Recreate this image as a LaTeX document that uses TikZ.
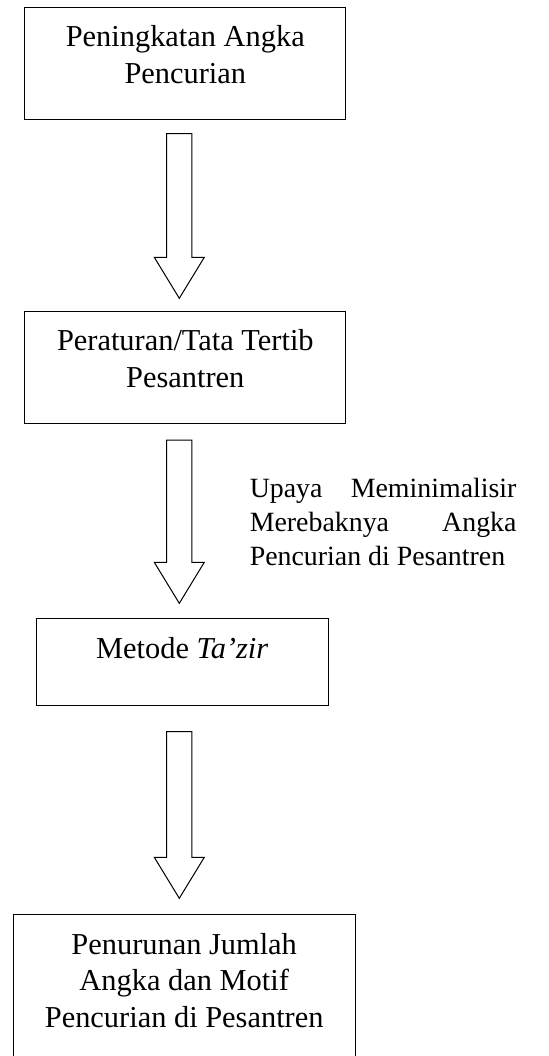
\documentclass[tikz,border=0pt]{standalone}
\usepackage{fontspec}
\setmainfont{Liberation Serif}
\usetikzlibrary{calc}

\newdimen\px
\px=0.3947pt
% box text, top aligned
\newcommand{\stagetext}[3]{\parbox[c][#2\px][t]{#1\px}{\centering\rule{0pt}{15.6pt}#3}}
% hollow block arrow between two boxes
\newcommand{\flowarrow}[4]{%
	\coordinate (top) at ($(#1.south -| axis)+(0,#3)$);
	\coordinate (tip) at ($(#2.north -| axis)+(0,-#4)$);
	\draw ($(top)+(-12.6,0)$) -- ($(tip)+(-12.6,-41)$) -- ($(tip)+(-25,-41)$) -- (tip)
		-- ($(tip)+(25,-41)$) -- ($(tip)+(12.6,-41)$) -- ($(top)+(12.6,0)$) -- cycle;}

\begin{document}
\begin{tikzpicture}[x=0.3947pt, y=-0.3947pt,
	stage node/.style={draw, inner sep=0pt, anchor=north, font=\fontsize{12}{14.4}\selectfont},
	note node/.style={inner sep=0pt, anchor=north west, text width=266.7\px, align=justify, font=\fontsize{11}{13.4}\selectfont}]
	
	\useasboundingbox (0,0) rectangle (548,1056);
	\coordinate (axis) at (179.3,0);
	
	\node[stage node] (Peningkatan) at (185.3,6.7) {\stagetext{321.3}{112}{Peningkatan Angka\\Pencurian}};
	\node[stage node] (Peraturan) at (185.3,310.7) {\stagetext{321.3}{112}{Peraturan/Tata Tertib\\Pesantren}};
	\node[stage node] (Metode) at (182.2,618.3) {\stagetext{292.3}{86.7}{Metode \textit{Ta’zir}}};
	\node[stage node] (Penurunan) at (184.2,914.3) {\stagetext{341.7}{165}{Penurunan Jumlah\\Angka dan Motif\\Pencurian di Pesantren}};
	
	\node[note node] (Upaya) at (249.3,477.7) {Upaya Meminimalisir\linebreak Merebaknya Angka\linebreak Pencurian di Pesantren};
	
	\flowarrow{Peningkatan}{Peraturan}{14}{12.4}
	\flowarrow{Peraturan}{Metode}{16.3}{15}
	\flowarrow{Metode}{Penurunan}{25.7}{16}
\end{tikzpicture}
\end{document}
